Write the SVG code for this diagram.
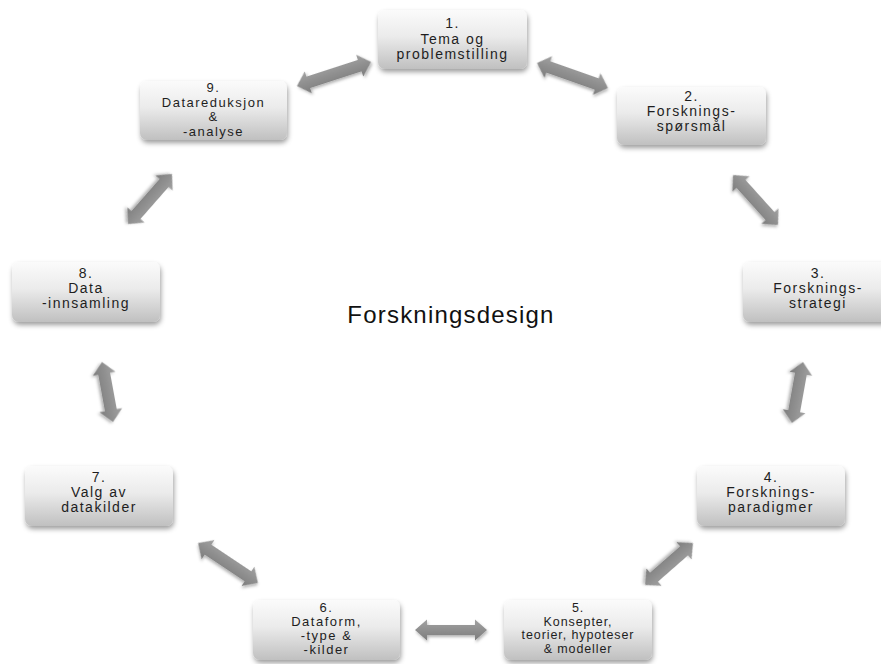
<svg xmlns="http://www.w3.org/2000/svg" width="881" height="664" viewBox="0 0 881 664">
  <defs>
    <linearGradient id="boxFill" x1="0" y1="0" x2="0" y2="1">
      <stop offset="0" stop-color="#fbfbfb"/>
      <stop offset="0.45" stop-color="#ebebeb"/>
      <stop offset="1" stop-color="#c0c0c0"/>
    </linearGradient>
    <linearGradient id="arrowFill" x1="0" y1="0" x2="0" y2="1">
      <stop offset="0" stop-color="#a2a2a2"/>
      <stop offset="1" stop-color="#7c7c7c"/>
    </linearGradient>
    <filter id="boxShadow" x="-10%" y="-15%" width="125%" height="140%">
      <feDropShadow dx="1" dy="3" stdDeviation="2.5" flood-color="#000" flood-opacity="0.38"/>
    </filter>
    <filter id="arrowShadow" x="-20%" y="-40%" width="140%" height="180%">
      <feDropShadow dx="1" dy="2" stdDeviation="1.8" flood-color="#000" flood-opacity="0.3"/>
    </filter>
  </defs>
  <style>
    .box { fill: url(#boxFill); filter: url(#boxShadow); }
    .lbl { font-family: "Liberation Sans", Arial, sans-serif; font-size: 14px; letter-spacing: 1.5px; fill: #1e1e1e; text-anchor: middle; }
    .four { font-size: 13px; letter-spacing: 1.5px; }
    .small { font-size: 12.5px; letter-spacing: 0.9px; }
    .arrow { fill: url(#arrowFill); filter: url(#arrowShadow); }
    .title { font-family: "Liberation Sans", Arial, sans-serif; font-size: 24px; letter-spacing: 1.2px; fill: #111; text-anchor: middle; }
  </style>
  <rect width="881" height="664" fill="#ffffff"/>

  <!-- double-headed block arrows between neighbouring steps -->
  <g id="connectors">
    <path class="arrow" transform="translate(334,74) rotate(-18)" d="M-39,0 L-27,-11.5 L-27,-6 L27,-6 L27,-11.5 L39,0 L27,11.5 L27,6 L-27,6 L-27,11.5 Z"/>
    <path class="arrow" transform="translate(572.5,75.5) rotate(19.4)" d="M-37.6,0 L-25.6,-11.5 L-25.6,-6 L25.6,-6 L25.6,-11.5 L37.6,0 L25.6,11.5 L25.6,6 L-25.6,6 L-25.6,11.5 Z"/>
    <path class="arrow" transform="translate(150,199) rotate(131.3)" d="M-33.3,0 L-21.3,-11.5 L-21.3,-6 L21.3,-6 L21.3,-11.5 L33.3,0 L21.3,11.5 L21.3,6 L-21.3,6 L-21.3,11.5 Z"/>
    <path class="arrow" transform="translate(755.5,200) rotate(48)" d="M-33.6,0 L-21.6,-11.5 L-21.6,-6 L21.6,-6 L21.6,-11.5 L33.6,0 L21.6,11.5 L21.6,6 L-21.6,6 L-21.6,11.5 Z"/>
    <path class="arrow" transform="translate(797.5,392.5) rotate(100.2)" d="M-31,0 L-19,-11.5 L-19,-6 L19,-6 L19,-11.5 L31,0 L19,11.5 L19,6 L-19,6 L-19,11.5 Z"/>
    <path class="arrow" transform="translate(107.5,392) rotate(79.6)" d="M-30.5,0 L-18.5,-11.5 L-18.5,-6 L18.5,-6 L18.5,-11.5 L30.5,0 L18.5,11.5 L18.5,6 L-18.5,6 L-18.5,11.5 Z"/>
    <path class="arrow" transform="translate(228,563) rotate(33.7)" d="M-36,0 L-24,-11.5 L-24,-6 L24,-6 L24,-11.5 L36,0 L24,11.5 L24,6 L-24,6 L-24,11.5 Z"/>
    <path class="arrow" transform="translate(669,564) rotate(138.8)" d="M-31.9,0 L-19.9,-11.5 L-19.9,-6 L19.9,-6 L19.9,-11.5 L31.9,0 L19.9,11.5 L19.9,6 L-19.9,6 L-19.9,11.5 Z"/>
    <path class="arrow" transform="translate(451,630)" d="M-36,0 L-24,-10.5 L-24,-5 L24,-5 L24,-10.5 L36,0 L24,10.5 L24,5 L-24,5 L-24,10.5 Z"/>
  </g>

  <g id="step1">
    <rect class="box" x="378" y="10" width="149" height="59" rx="7"/>
    <text class="lbl"><tspan x="452.5" y="28">1.</tspan><tspan x="452.5" y="44">Tema og</tspan><tspan x="452.5" y="59">problemstilling</tspan></text>
  </g>
  <g id="step2">
    <rect class="box" x="617" y="87" width="149" height="58" rx="7"/>
    <text class="lbl"><tspan x="691.5" y="101">2.</tspan><tspan x="691.5" y="116">Forsknings-</tspan><tspan x="691.5" y="131">spørsmål</tspan></text>
  </g>
  <g id="step3">
    <rect class="box" x="743" y="262" width="149" height="60" rx="7"/>
    <text class="lbl"><tspan x="818" y="278">3.</tspan><tspan x="818" y="293">Forsknings-</tspan><tspan x="818" y="308">strategi</tspan></text>
  </g>
  <g id="step4">
    <rect class="box" x="697" y="466" width="148" height="60" rx="7"/>
    <text class="lbl"><tspan x="771" y="482">4.</tspan><tspan x="771" y="497">Forsknings-</tspan><tspan x="771" y="512">paradigmer</tspan></text>
  </g>
  <g id="step5">
    <rect class="box" x="504" y="600" width="148" height="60" rx="7"/>
    <text class="lbl small"><tspan x="578" y="612">5.</tspan><tspan x="578" y="625.5">Konsepter,</tspan><tspan x="578" y="639">teorier, hypoteser</tspan><tspan x="578" y="652.5">&amp; modeller</tspan></text>
  </g>
  <g id="step6">
    <rect class="box" x="253" y="600" width="147" height="60" rx="7"/>
    <text class="lbl four"><tspan x="326.5" y="612">6.</tspan><tspan x="326.5" y="626">Dataform,</tspan><tspan x="326.5" y="640">-type &amp;</tspan><tspan x="326.5" y="654">-kilder</tspan></text>
  </g>
  <g id="step7">
    <rect class="box" x="25" y="466" width="148" height="60" rx="7"/>
    <text class="lbl"><tspan x="99" y="482">7.</tspan><tspan x="99" y="497">Valg av</tspan><tspan x="99" y="512">datakilder</tspan></text>
  </g>
  <g id="step8">
    <rect class="box" x="12" y="262" width="148" height="60" rx="7"/>
    <text class="lbl"><tspan x="86" y="278">8.</tspan><tspan x="86" y="293">Data</tspan><tspan x="86" y="308">-innsamling</tspan></text>
  </g>
  <g id="step9">
    <rect class="box" x="140" y="81" width="147" height="59" rx="7"/>
    <text class="lbl four"><tspan x="213.5" y="92">9.</tspan><tspan x="213.5" y="106.5">Datareduksjon</tspan><tspan x="213.5" y="121">&amp;</tspan><tspan x="213.5" y="135.5">-analyse</tspan></text>
  </g>

  <g id="title">
    <text class="title" x="451" y="323">Forskningsdesign</text>
  </g>
</svg>
